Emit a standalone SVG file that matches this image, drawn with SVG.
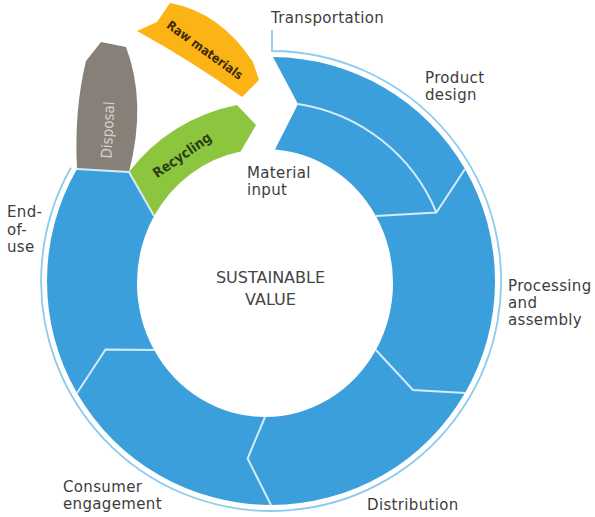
<svg xmlns="http://www.w3.org/2000/svg" width="595" height="517" viewBox="0 0 595 517">
<style>
.seg{fill:#3b9fdc}
.div{fill:none;stroke:#d2ecfa;stroke-width:2;stroke-linejoin:miter}
.track{fill:none;stroke:#8ccbef;stroke-width:1.8}
.lbl{font-family:"DejaVu Sans",sans-serif;font-size:15px;letter-spacing:0.35px;fill:#3d3d3d}
.ctr{font-family:"DejaVu Sans",sans-serif;font-size:16px;fill:#444;text-anchor:middle}
.band{font-family:"DejaVu Sans Condensed","DejaVu Sans",sans-serif;font-stretch:condensed;font-weight:bold;text-anchor:middle}
</style>
<rect width="595" height="517" fill="#ffffff"/>

<g id="transportation">
<path class="track" d="M 272,30 L 272,51 A 230 230 0 1 1 70.9,167.8"/>
<text class="lbl" x="271" y="23">Transportation</text>
</g>

<g id="product-design">
<path class="seg" d="M 273,57 A 224 224 0 0 1 465,169 L 436.4,212.5 A 179 179 0 0 0 298,104 Z"/>
<text class="lbl"><tspan x="425" y="83">Product</tspan><tspan x="425" y="100">design</tspan></text>
</g>

<g id="material-input">
<path class="seg" d="M 298,104 A 179 179 0 0 1 436.4,212.5 L 375.9,216 A 128 134 0 0 0 275,149.4 Z"/>
<text class="lbl"><tspan x="247" y="178">Material</tspan><tspan x="247" y="195">input</tspan></text>
</g>

<g id="processing-assembly">
<path class="seg" d="M 465,169 A 224 224 0 0 1 465,393 L 413,390 L 375.9,350 A 128 134 0 0 0 375.9,216 L 436.4,212.5 Z"/>
<text class="lbl"><tspan x="508" y="291">Processing</tspan><tspan x="508" y="308">and</tspan><tspan x="508" y="325">assembly</tspan></text>
</g>

<g id="distribution">
<path class="seg" d="M 465,393 A 224 224 0 0 1 271,505 L 247.6,458.5 L 265,417 A 128 134 0 0 0 375.9,350 L 413,390 Z"/>
<text class="lbl" x="367" y="510">Distribution</text>
</g>

<g id="consumer-engagement">
<path class="seg" d="M 271,505 A 224 224 0 0 1 77,393 L 105.6,349.5 L 154.1,350 A 128 134 0 0 0 265,417 L 247.6,458.5 Z"/>
<text class="lbl"><tspan x="63" y="492">Consumer</tspan><tspan x="63" y="509">engagement</tspan></text>
</g>

<g id="end-of-use">
<path class="seg" d="M 77,393 A 224 224 0 0 1 77,169 L 129,172 L 154.1,216 A 128 134 0 0 0 154.1,350 L 105.6,349.5 Z"/>
<text class="lbl"><tspan x="7" y="217">End-</tspan><tspan x="7" y="234.5">of-</tspan><tspan x="7" y="252">use</tspan></text>
</g>

<g id="recycling">
<path fill="#8cc63f" d="M 129,172 A 179 179 0 0 1 237,105 L 256,125 L 240.6,151.5 A 128 134 0 0 0 154.1,216 Z"/>
<text class="band" font-size="14" fill="#2c3f12" transform="translate(182,155) rotate(-35)" x="0" y="5">Recycling</text>
</g>

<g id="disposal">
<path fill="#878079" d="M 77,169 Q 74,110 86,61 L 101,42 L 126,47 Q 147,102 129,172 Z"/>
<text font-family="DejaVu Sans Condensed, DejaVu Sans, sans-serif" font-stretch="condensed" font-size="15" fill="#d3cec8" text-anchor="middle" transform="translate(108,130) rotate(-87)" x="0" y="5">Disposal</text>
</g>

<g id="raw-materials">
<path fill="#fbb315" d="M 170,3 L 157,22 L 137,31 Q 190,60 242,97 L 259,80 L 253,62 Q 220,12 170,3 Z"/>
<text class="band" font-size="12.5" fill="#3a2c08" transform="translate(205,50) rotate(36)" x="0" y="4.5">Raw materials</text>
</g>

<g id="sustainable-value">
<text class="ctr"><tspan x="270.5" y="283">SUSTAINABLE</tspan><tspan x="270.5" y="305">VALUE</tspan></text>
</g>

<g id="connectors">
<polyline class="div" points="465,169 436.4,212.5 375.9,216"/>
<polyline class="div" points="465,393 413,390 375.9,350"/>
<polyline class="div" points="271,505 247.6,458.5 265,417"/>
<polyline class="div" points="77,393 105.6,349.5 154.1,350"/>
<polyline class="div" points="77,169 129,172 154.1,216"/>
<path class="div" stroke-width="1.6" d="M 298,104 A 179 179 0 0 1 436.4,212.5"/>
</g>
</svg>
